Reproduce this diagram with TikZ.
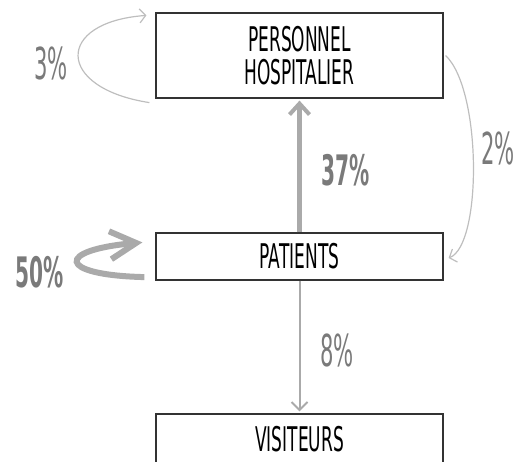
\documentclass[tikz,border=0pt]{standalone}
\usepackage{fontspec}
\setmainfont[FakeStretch=0.5]{DejaVu Sans}
\newfontfamily\pctfont[FakeStretch=0.48]{DejaVu Sans}
\usetikzlibrary{arrows.meta}
\definecolor{boxline}{HTML}{333333}
\definecolor{thickgray}{HTML}{AAAAAA}
\definecolor{thingray}{HTML}{BEBEBE}
\definecolor{labelgray}{HTML}{7A7A7A}
\tikzset{
  box/.style={draw=boxline, line width=1.2pt, minimum width=287pt, inner sep=0pt, align=center,
              font=\fontsize{34}{33}\selectfont, text=black},
  thickarrow/.style={draw=thickgray, line width=5pt, -{Straight Barb[length=11pt,width=20pt,line width=4pt]}},
  thinarrow/.style={draw=thingray, line width=1.2pt, -{Straight Barb[length=6pt,width=14pt,line width=1.2pt]}},
  midarrow/.style={draw=thickgray, line width=2pt, -{Straight Barb[length=8pt,width=16pt,line width=2pt]}},
  pct/.style={text=labelgray, inner sep=0pt, font=\pctfont\fontsize{44}{46}\selectfont},
  pctbold/.style={pct, font=\pctfont\fontsize{42}{44}\bfseries\selectfont},
}
\begin{document}
\begin{tikzpicture}[x=1pt,y=-1pt]
\useasboundingbox (0,0) rectangle (518,461);
\node[box, minimum height=85pt] (pers) at (299.5,55.5) {PERSONNEL\\HOSPITALIER};
\node[box, minimum height=47pt] (pat) at (299.5,256.5) {PATIENTS};
\node[box, minimum height=50pt] (vis) at (299.5,439) {VISITEURS};

% 37%
\draw[thickarrow, shorten >=2pt] (pat.north) -- (pers.south);
\node[pctbold] (l37) at (346,170) {37\%};
% 8%
\draw[midarrow, shorten >=2pt] (pat.south) -- (vis.north);
\node[pct] (l8) at (337,350) {8\%};
% 2%
\draw[thinarrow] ([xshift=2pt]pers.east) .. controls (482,90) and (482,245) .. ([xshift=5pt,yshift=-1.5pt]pat.east);
\node[pct] (l2) at (498,148) {2\%};
% 3%
\draw[thinarrow] ([xshift=-6pt,yshift=-4pt]pers.south west) .. controls (55,88) and (55,22) .. ([xshift=-9pt,yshift=-3pt]pers.north west);
\node[pct] (l3) at (51,63) {3\%};
% 50%
\draw[draw=thickgray, line width=6pt, -{Straight Barb[length=26pt,width=28pt,line width=6pt]}]
  ([xshift=-11pt,yshift=3.5pt]pat.south west) .. controls (56,275) and (56,250) .. ([xshift=-13pt,yshift=-10pt]pat.north west);
\node[pctbold] (l50) at (40,272) {50\%};
\end{tikzpicture}
\end{document}
